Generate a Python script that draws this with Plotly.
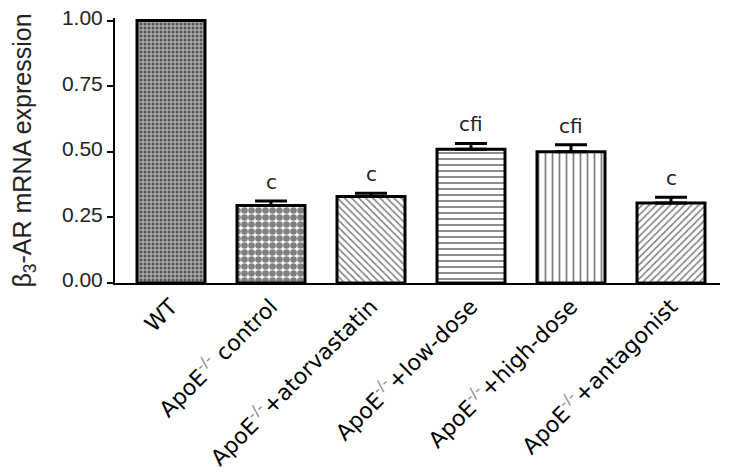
import plotly.graph_objects as go

categories = ["WT", "ApoE-/- control", "ApoE-/-+atorvastatin", "ApoE-/-+low-dose",
              "ApoE-/-+high-dose", "ApoE-/-+antagonist"]
tick_labels = [
    "WT",
    "ApoE<sup><span style='color:#888'>-/-</span></sup> control",
    "ApoE<sup><span style='color:#888'>-/-</span></sup>+atorvastatin",
    "ApoE<sup><span style='color:#888'>-/-</span></sup>+low-dose",
    "ApoE<sup><span style='color:#888'>-/-</span></sup>+high-dose",
    "ApoE<sup><span style='color:#888'>-/-</span></sup>+antagonist",
]
values = [1.00, 0.295, 0.33, 0.51, 0.50, 0.305]
errors = [0.0, 0.018, 0.012, 0.022, 0.027, 0.022]
sig_labels = ["", "c", "c", "cfi", "cfi", "c"]
y_ticks = [0.0, 0.25, 0.50, 0.75, 1.00]

patterns = [".", ".", "\\", "-", "|", "/"]
pat_sizes = [4, 7, 5, 6, 7, 5]
pat_solid = [0.45, 0.7, 0.3, 0.3, 0.25, 0.3]

fig = go.Figure()
x_idx = list(range(len(categories)))
for i in x_idx:
    fig.add_trace(go.Bar(
        x=[i], y=[values[i]], width=0.68,
        marker=dict(color="white", line=dict(color="black", width=3),
                    pattern=dict(shape=patterns[i], size=pat_sizes[i], solidity=pat_solid[i],
                                 fgcolor="black", bgcolor="#aaaaaa" if i == 0 else "white")),
        error_y=dict(type="data", symmetric=False, array=[errors[i]], arrayminus=[0],
                     color="black", thickness=3, width=16, visible=errors[i] > 0),
        showlegend=False,
    ))
    if sig_labels[i]:
        fig.add_annotation(x=i, y=values[i] + errors[i], text=sig_labels[i], showarrow=False,
                           yanchor="bottom", yshift=5,
                           font=dict(family="DejaVu Sans", size=20, color="#222"))

fig.update_layout(
    width=729, height=473,
    margin=dict(l=107, r=17, t=10, b=198, autoexpand=False),
    plot_bgcolor="white", paper_bgcolor="white",
)
fig.update_xaxes(
    tickmode="array", tickvals=x_idx, ticktext=tick_labels, tickangle=-45,
    range=[-0.56, 5.49], showline=True, linecolor="black", linewidth=2,
    ticks="", tickfont=dict(family="DejaVu Sans", size=22, color="black"),
    showgrid=False, zeroline=False, automargin=False, ticklabeloverflow="allow",
)
fig.update_yaxes(
    range=[0, 1.01], tickmode="array", tickvals=y_ticks,
    ticktext=[f"{v:.2f}" for v in y_ticks],
    showline=True, linecolor="black", linewidth=2, ticks="outside", ticklen=6,
    tickwidth=2, tickcolor="black", ticklabeloverflow="allow", ticklabelshift=-3,
    tickfont=dict(family="Liberation Sans", size=21, color="#222"),
    title=dict(text="β<sub>3</sub>-AR mRNA expression",
               font=dict(family="Liberation Sans", size=25, color="#222"), standoff=36),
    showgrid=False, zeroline=False, automargin=False,
)

fig.write_html("out.html")
